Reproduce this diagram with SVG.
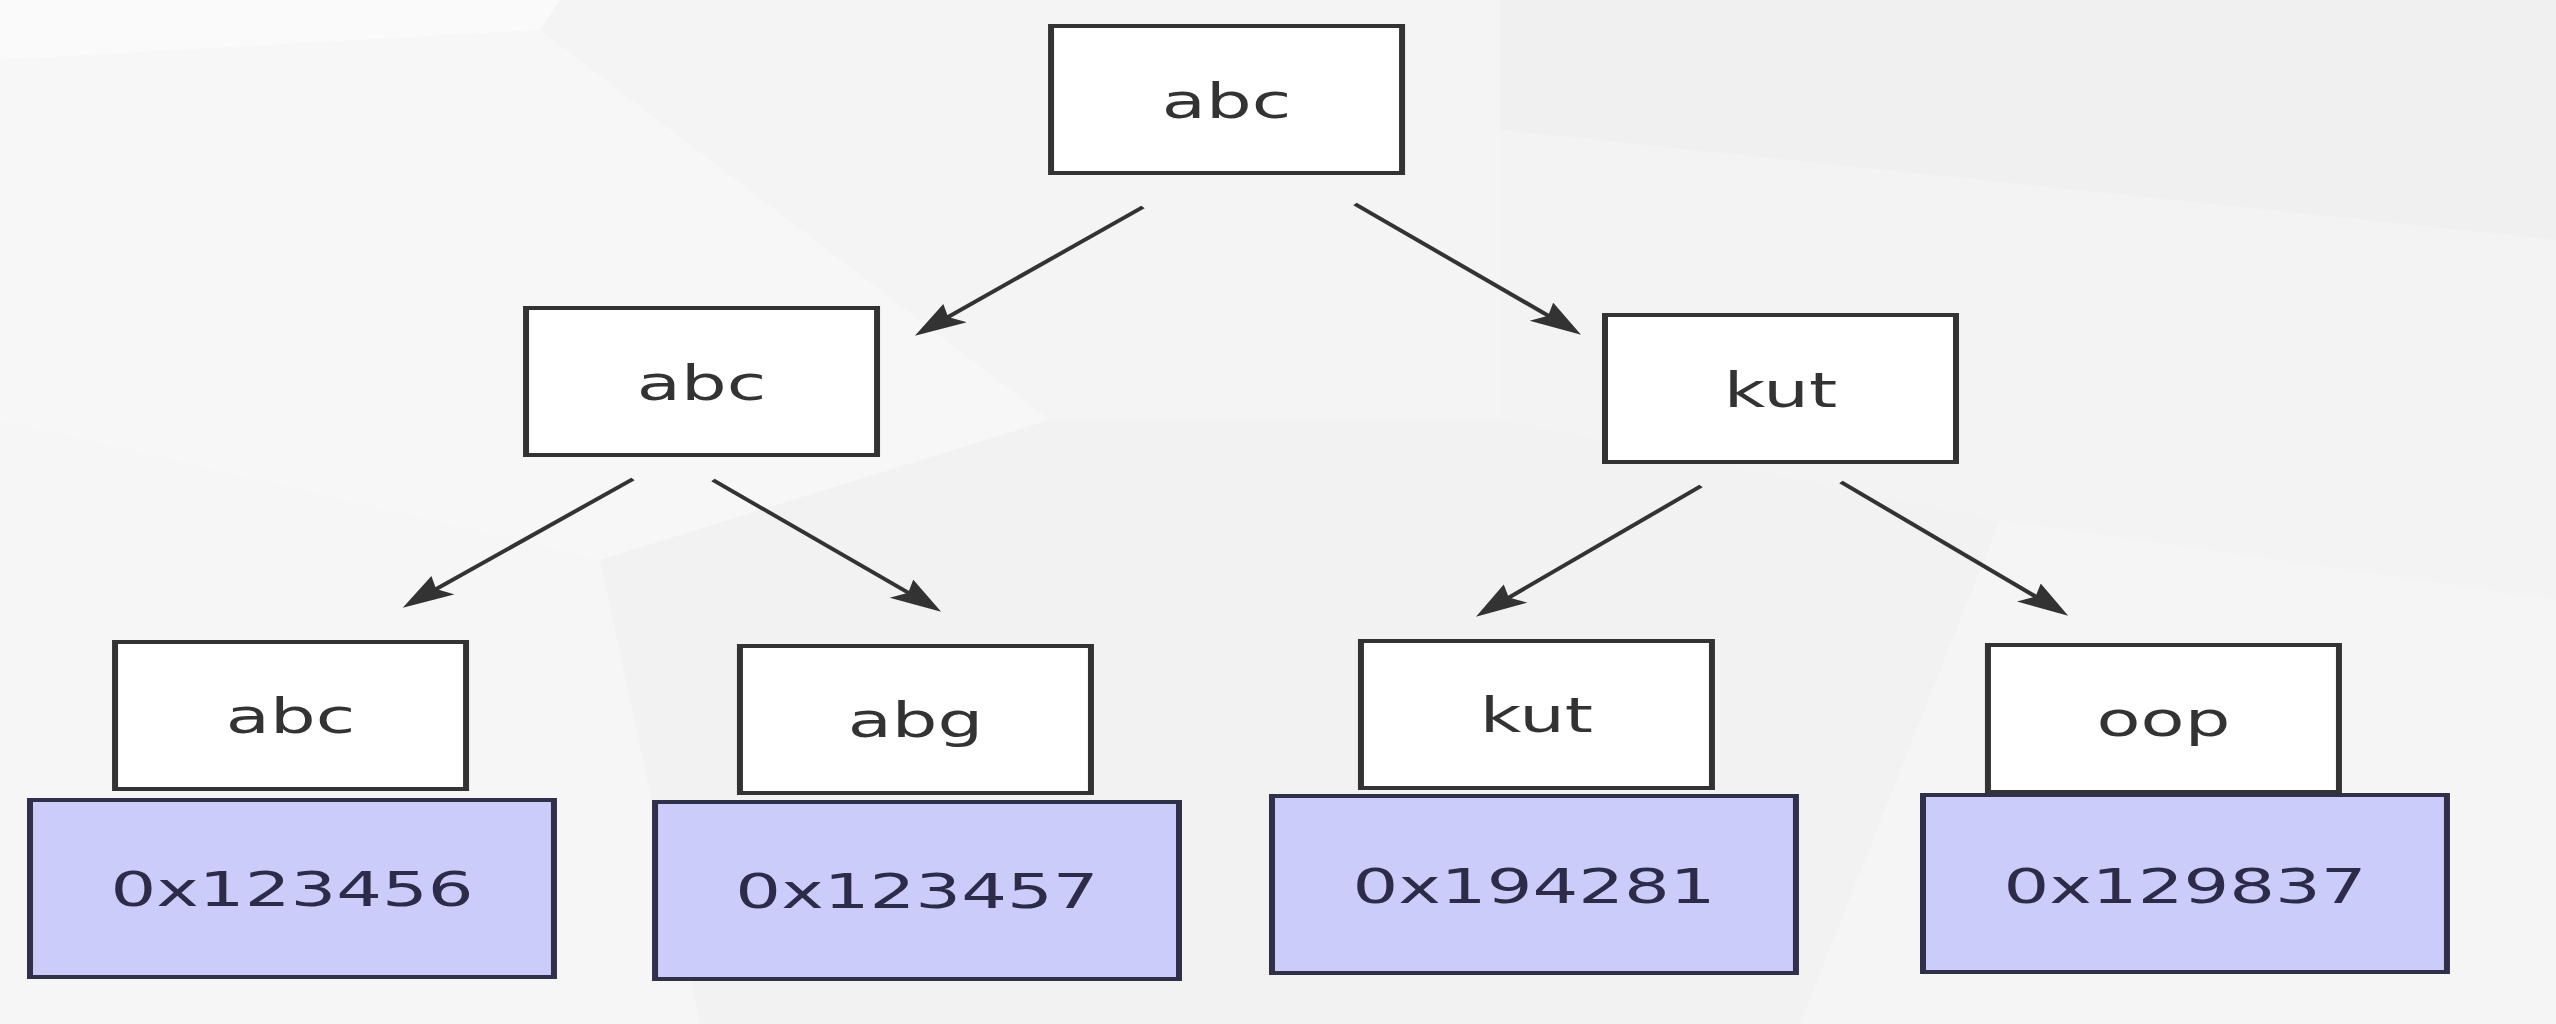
<svg xmlns="http://www.w3.org/2000/svg" width="2556" height="1024" viewBox="0 0 2556 1024">
  <defs>
    <style>
      .key { fill: #ffffff; stroke: #333333; stroke-width: 4; }
      .val { fill: #ccccfa; stroke: #30304a; stroke-width: 4; }
      .klabel { font-family: "DejaVu Sans", "Liberation Sans", sans-serif; font-size: 48px; fill: #333333; text-anchor: middle; }
      .vlabel { font-family: "DejaVu Sans", "Liberation Sans", sans-serif; font-size: 48px; fill: #2c2c4a; text-anchor: middle; }
      .edge { fill: none; stroke: #333333; stroke-width: 3.5; marker-end: url(#head); }
    </style>
    <marker id="head" markerUnits="userSpaceOnUse" markerWidth="38" markerHeight="26" refX="29" refY="12" orient="auto">
      <path d="M0,0 L35,12 L0,24 L6,12 z" fill="#333333"/>
    </marker>
  </defs>

  <!-- soft low-poly backdrop -->
  <g id="backdrop">
    <rect x="0" y="0" width="2556" height="1024" fill="#f4f4f4"/>
    <polygon points="0,0 560,0 540,30 0,60" fill="#fafafa"/>
    <polygon points="0,60 540,30 1050,420 600,560 0,420" fill="#f7f7f7"/>
    <polygon points="1500,0 2556,0 2556,240 1500,130" fill="#f0f0f0"/>
    <polygon points="1500,130 2556,240 2556,600 2000,520 1500,420" fill="#f3f3f3"/>
    <polygon points="0,420 600,560 700,1024 0,1024" fill="#f6f6f6"/>
    <polygon points="1050,420 1500,420 2000,520 1800,1024 700,1024 600,560" fill="#f2f2f2"/>
    <polygon points="2000,520 2556,600 2556,1024 1800,1024" fill="#f5f5f5"/>
  </g>

  <!-- the drawing is laid out on a narrower grid and stretched sideways -->
  <g transform="scale(1.5 1)">
    <g id="connectors">
      <line class="edge" x1="762" y1="207" x2="614.5" y2="331.8"/>
      <line class="edge" x1="903.3" y1="204" x2="1049.5" y2="330.7"/>
      <line class="edge" x1="422" y1="479" x2="273.1" y2="603.8"/>
      <line class="edge" x1="475.3" y1="480" x2="622.9" y2="607.7"/>
      <line class="edge" x1="1134" y1="486" x2="988.5" y2="612.7"/>
      <line class="edge" x1="1227.3" y1="482" x2="1374.3" y2="611.7"/>
    </g>

    <g id="root">
      <rect class="key" x="700.7" y="26" width="234" height="147"/>
      <text class="klabel" x="817.7" y="118">abc</text>
    </g>

    <g id="left">
      <rect class="key" x="350.7" y="308" width="234" height="147"/>
      <text class="klabel" x="467.7" y="400">abc</text>
    </g>

    <g id="right">
      <rect class="key" x="1070" y="315" width="234" height="147"/>
      <text class="klabel" x="1187" y="407">kut</text>
    </g>

    <g id="leaf-abc">
      <rect class="key" x="76.7" y="642" width="234" height="147"/>
      <text class="klabel" x="193.7" y="733">abc</text>
      <rect class="val" x="20" y="800" width="349.3" height="177"/>
      <text class="vlabel" x="194.7" y="906">0x123456</text>
    </g>

    <g id="leaf-abg">
      <rect class="key" x="493.3" y="646" width="234" height="147"/>
      <text class="klabel" x="610.3" y="737">abg</text>
      <rect class="val" x="436.7" y="802" width="349.3" height="177"/>
      <text class="vlabel" x="611.3" y="908">0x123457</text>
    </g>

    <g id="leaf-kut">
      <rect class="key" x="907.3" y="641" width="234" height="147"/>
      <text class="klabel" x="1024.3" y="732">kut</text>
      <rect class="val" x="848" y="796" width="349.3" height="177"/>
      <text class="vlabel" x="1022.7" y="903">0x194281</text>
    </g>

    <g id="leaf-oop">
      <rect class="key" x="1325.3" y="645" width="234" height="147"/>
      <text class="klabel" x="1442.3" y="736">oop</text>
      <rect class="val" x="1282" y="795" width="349.3" height="177"/>
      <text class="vlabel" x="1456.7" y="903">0x129837</text>
    </g>
  </g>
</svg>
